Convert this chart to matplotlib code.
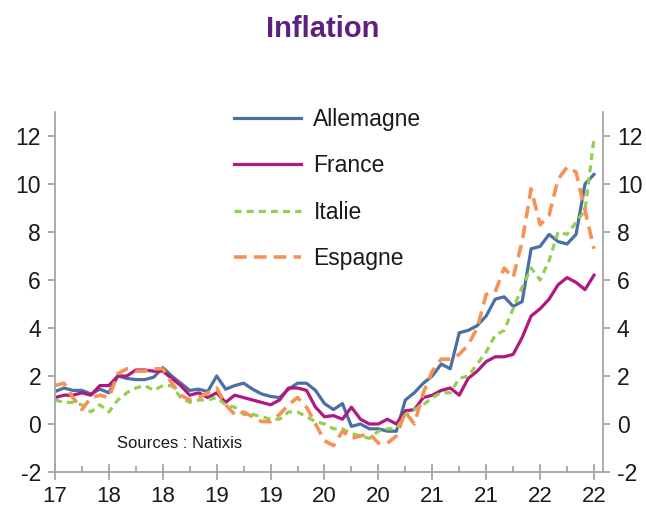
import numpy as np
import matplotlib.pyplot as plt
from matplotlib.ticker import MultipleLocator

plt.rcParams['font.family'] = ['Liberation Sans', 'DejaVu Sans']
plt.rcParams['axes.unicode_minus'] = False

# monthly inflation, oct 2017 -> oct 2022 (% y/y)
allemagne = [1.35, 1.5, 1.4, 1.4, 1.25, 1.45, 1.3, 2.0, 1.9, 1.85, 1.85, 1.95,
             2.35, 2.0, 1.7, 1.4, 1.45, 1.35, 2.0, 1.45, 1.6, 1.7, 1.45, 1.25,
             1.15, 1.1, 1.45, 1.7, 1.7, 1.4, 0.85, 0.6, 0.85, -0.1, 0.0, -0.2,
             -0.2, -0.3, -0.3, 1.0, 1.3, 1.7, 2.0, 2.5, 2.3, 3.8, 3.9, 4.1,
             4.5, 5.2, 5.3, 4.9, 5.1, 7.3, 7.4, 7.9, 7.6, 7.5, 7.9, 10.0, 10.4]
france = [1.1, 1.2, 1.2, 1.3, 1.2, 1.6, 1.6, 2.0, 2.0, 2.25, 2.25, 2.2,
          2.2, 1.9, 1.6, 1.2, 1.3, 1.1, 1.3, 0.9, 1.2, 1.1, 1.0, 0.9,
          0.8, 1.0, 1.5, 1.5, 1.4, 0.7, 0.3, 0.35, 0.2, 0.7, 0.2, 0.0,
          0.0, 0.2, 0.0, 0.55, 0.6, 1.1, 1.2, 1.4, 1.5, 1.2, 1.9, 2.2,
          2.6, 2.8, 2.8, 2.9, 3.6, 4.5, 4.8, 5.2, 5.8, 6.1, 5.9, 5.6, 6.2]
italie = [1.0, 0.9, 0.9, 0.8, 0.5, 0.8, 0.5, 1.0, 1.3, 1.5, 1.6, 1.4,
          1.6, 1.6, 1.1, 0.9, 1.0, 1.0, 1.1, 0.8, 0.7, 0.4, 0.4, 0.3,
          0.2, 0.2, 0.5, 0.5, 0.3, 0.1, 0.0, -0.2, -0.2, -0.4, -0.5, -0.6,
          -0.3, -0.2, -0.2, 0.4, 0.6, 0.8, 1.1, 1.3, 1.3, 1.9, 2.0, 2.5,
          3.0, 3.7, 3.9, 4.8, 5.7, 6.5, 6.0, 6.8, 8.0, 7.9, 8.4, 8.9, 11.9]
espagne = [1.6, 1.7, 1.1, 0.6, 1.1, 1.2, 1.1, 2.1, 2.3, 2.2, 2.2, 2.3,
           2.3, 1.7, 1.2, 1.0, 1.1, 1.3, 1.5, 0.8, 0.4, 0.5, 0.3, 0.1,
           0.1, 0.4, 0.8, 1.1, 0.7, 0.0, -0.7, -0.9, -0.3, -0.6, -0.5, -0.4,
           -0.8, -0.8, -0.5, 0.5, 0.0, 1.3, 2.2, 2.7, 2.7, 2.9, 3.3, 4.0,
           5.4, 5.5, 6.5, 6.1, 7.6, 9.8, 8.3, 8.7, 10.2, 10.7, 10.5, 8.9, 7.3]
xlabels = ['17', '18', '18', '19', '19', '20', '20', '21', '21', '22', '22']

x = np.arange(len(allemagne))

fig = plt.figure(figsize=(6.46, 5.08), dpi=100)
ax = fig.add_axes([0.0851, 0.0709, 0.8483, 0.7086])

ax.plot(x, allemagne, color='#4a6fa5', lw=2.3, label='Allemagne')
ax.plot(x, france, color='#b0187f', lw=2.3, label='France')
ax.plot(x, italie, color='#92d050', lw=2.3, ls=(0, (2.2, 1.6)), label='Italie')
ax.plot(x, espagne, color='#f79256', lw=2.6, ls=(0, (3.5, 2.0)), label='Espagne')

ax.set_xlim(0, 61)
ax.set_ylim(-2, 13)

grey = '#a6a6a6'
ax.spines['top'].set_visible(False)
for s in ['left', 'right', 'bottom']:
    ax.spines[s].set_color(grey)
    ax.spines[s].set_linewidth(1.3)

ax.set_xticks(np.arange(0, 61, 6))
ax.set_xticklabels(xlabels)
ax.xaxis.set_minor_locator(MultipleLocator(3))
ax.tick_params(axis='x', which='major', direction='inout', length=12, width=1.3,
               color=grey, labelsize=16, pad=4, labelcolor='#1a1a1a')
ax.tick_params(axis='x', which='minor', direction='in', length=4, width=1.3,
               color=grey)

ax.set_yticks(np.arange(-2, 13, 2))
ax.tick_params(axis='y', which='major', direction='out', length=5, width=1.3,
               color=grey, labelsize=16.5, pad=5, labelcolor='#1a1a1a',
               left=True, right=True, labelleft=True, labelright=True)

ax.text(0.113, 0.078, 'Sources : Natixis', transform=ax.transAxes,
        va='center', fontsize=12, color='#1a1a1a')

fig.text(0.499, 0.943, 'Inflation', ha='center', va='center', fontsize=21,
         fontweight='bold', color='#5f1f80')

leg = ax.legend(loc='upper left', bbox_to_anchor=(0.345, 0.81),
                bbox_transform=fig.transFigure, frameon=False,
                fontsize=16.5, handlelength=2.9, handletextpad=0.55,
                labelspacing=1.02, borderpad=0)
for t in leg.get_texts():
    t.set_color('#1a1a1a')

fig.savefig('out.png', dpi=100)
